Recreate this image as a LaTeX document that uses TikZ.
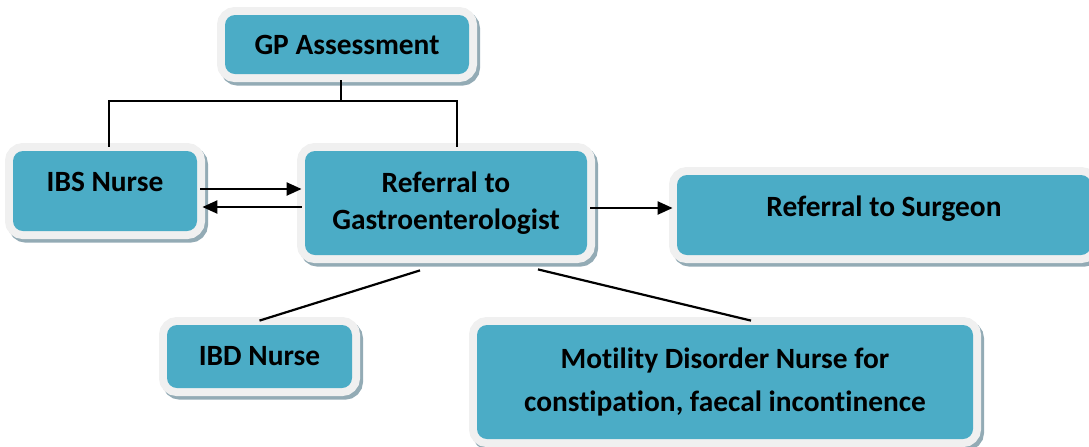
\documentclass[tikz,border=0pt]{standalone}
\usepackage{fontspec}
\setmainfont{Carlito}[Ligatures={NoCommon}]
\usetikzlibrary{arrows.meta}

\definecolor{boxteal}{HTML}{4BACC6}
\definecolor{boxframe}{HTML}{F0F0F0}
\definecolor{boxshadow}{HTML}{93ABB5}

\begin{document}
\begin{tikzpicture}[
    x=0.5pt, y=-0.5pt,
    >={Triangle[length=7.5pt,width=6.5pt]},
    stepbox/.style={
        fill=boxteal,
        rounded corners=5pt,
        inner sep=0pt,
        align=center,
        font=\bfseries\fontsize{14.7}{18.5}\selectfont,
        preaction={draw=boxshadow, line width=8pt,
            transform canvas={shift={(1.5pt,-1.8pt)}}},
        preaction={draw=boxframe, line width=8pt}
    },
    link/.style={line width=1.1pt},
    arr/.style={->, line width=1.1pt}
]
    \useasboundingbox (0,0) rectangle (1089,446);

    \node[stepbox, minimum width=122pt, minimum height=29.5pt] (gp) at (347,44.5)
        {GP Assessment};
    \node[stepbox, minimum width=92pt, minimum height=40pt, text depth=9pt] (ibs) at (105,191)
        {IBS Nurse};
    \node[stepbox, minimum width=141pt, minimum height=52pt] (gastro) at (446,203)
        {Referral to\\Gastroenterologist};
    \node[stepbox, minimum width=207pt, minimum height=40pt, text depth=9pt] (surgeon) at (884,215)
        {Referral to Surgeon};
    \node[stepbox, minimum width=92.5pt, minimum height=31.5pt] (ibd) at (259.5,356.5)
        {IBD Nurse};
    \node[stepbox, minimum width=248pt, minimum height=57pt,
        font=\bfseries\fontsize{14.7}{21.5}\selectfont] (motility) at (725,382)
        {Motility Disorder Nurse for\\constipation, faecal incontinence};

    % GP to the first two steps
    \coordinate (split) at (341,101);
    \draw[link] ([yshift=-3pt]split |- gp.south) -- (split)
        -| ([xshift=2pt,yshift=2pt]ibs.north);
    \draw[link] (split) -| ([xshift=5.5pt,yshift=2pt]gastro.north);

    \draw[arr] ([xshift=1.5pt,yshift=1pt]ibs.east)
        -- ([xshift=-1.5pt,yshift=1pt]ibs.east -| gastro.west);
    \draw[arr] ([xshift=-1.5pt,yshift=-8pt]ibs.east -| gastro.west)
        -- ([xshift=2.5pt,yshift=-8pt]ibs.east);
    \draw[arr] ([xshift=1.5pt,yshift=-2.5pt]gastro.east)
        -- ([xshift=-2pt,yshift=-2.5pt]gastro.east -| surgeon.west);

    \draw[link] ([xshift=-13pt,yshift=-7.5pt]gastro.south) -- ([yshift=2pt]ibd.north);
    \draw[link] ([xshift=46pt,yshift=-7pt]gastro.south)
        -- ([xshift=13pt,yshift=2pt]motility.north);
\end{tikzpicture}
\end{document}
